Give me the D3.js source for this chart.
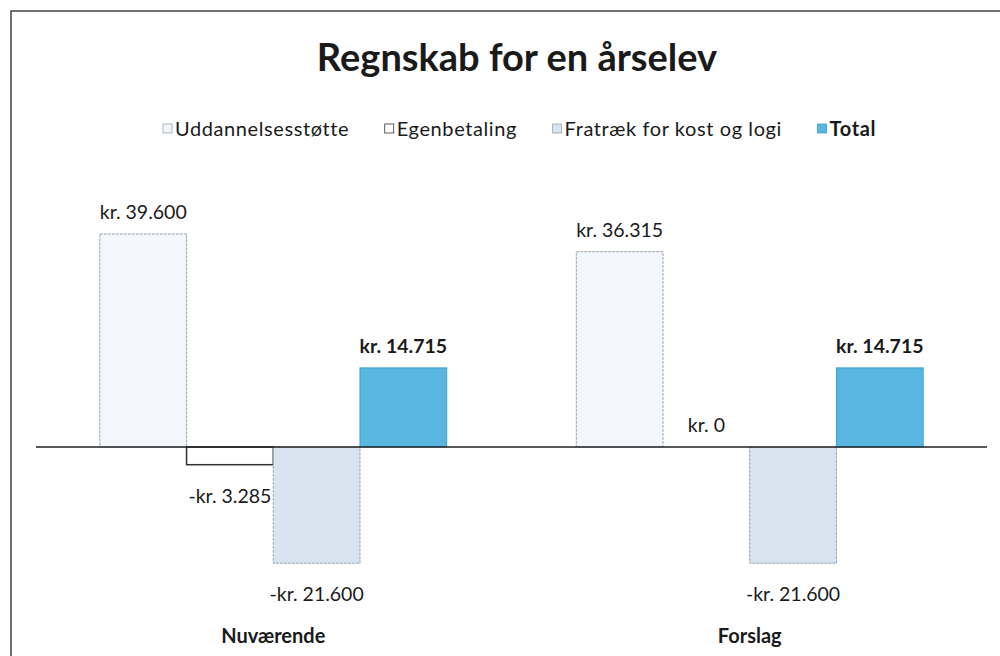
<!DOCTYPE html>
<meta charset="utf-8">
<style>
  body { margin: 0; background: white; }
  text { font-family: Lato, "Open Sans", sans-serif; fill: #1a1a1a; }
  .title { font-size: 38px; font-weight: bold; }
  .legend text { font-size: 20px; letter-spacing: 0.6px; }
  .label { font-size: 19.5px; }
  .cat { font-size: 20px; font-weight: bold; }
</style>
<body>
<script src="https://d3js.org/d3.v7.min.js"></script>
<script>

// chart values
var categories = ["Nuværende", "Forslag"];
var series = ["Uddannelsesstøtte", "Egenbetaling", "Fratræk for kost og logi", "Total"];
var nuvaerende = [39600, -3285, -21600, 14715];
var forslag = [36315, 0, -21600, 14715];
var valueLabels = [
  ["kr. 39.600", "-kr. 3.285", "-kr. 21.600", "kr. 14.715"],
  ["kr. 36.315", "kr. 0", "-kr. 21.600", "kr. 14.715"]
];

var fills = ["#f3f7fb", "#ffffff", "#d9e4f1", "#58b6e1"];
var strokes = ["#9aa3ab", "#333333", "#9aa3ab", "#3c9fd0"];

var width = 1000, height = 656;

var svg = d3.select("body").append("svg")
    .attr("width", width)
    .attr("height", height);

// frame (only top and left visible in the scan)
svg.append("path")
    .attr("d", "M11,656 V11 H1000")
    .attr("fill", "none")
    .attr("stroke", "#444")
    .attr("stroke-width", 1.5);

svg.append("text")
    .attr("class", "title")
    .attr("x", 517)
    .attr("y", 71)
    .attr("text-anchor", "middle")
    .text("Regnskab for en årselev");

// scales
var x0 = d3.scaleBand()
    .domain(categories)
    .range([36, 987])
    .paddingInner(0.272)
    .paddingOuter(0.134);

var x1 = d3.scaleBand()
    .domain(series)
    .range([0, x0.bandwidth()]);

var y = d3.scaleLinear()
    .domain([-25000, 45000])
    .range([581.5, 205]);

var data = [nuvaerende, forslag];

function rows(d, i) {
  return data[i].map(function(v, j) { return {s: series[j], v: v, j: j, label: valueLabels[i][j]}; });
}

var groups = svg.selectAll("g.group")
    .data(categories)
  .enter().append("g")
    .attr("class", "group")
    .attr("transform", function(d) { return "translate(" + x0(d) + ",0)"; });

groups.selectAll("rect")
    .data(rows)
  .enter().append("rect")
    .attr("x", function(d) { return x1(d.s); })
    .attr("width", x1.bandwidth())
    .attr("y", function(d) { return y(Math.max(0, d.v)); })
    .attr("height", function(d) { return Math.abs(y(d.v) - y(0)); })
    .attr("fill", function(d) { return fills[d.j]; })
    .attr("stroke", function(d) { return strokes[d.j]; })
    .attr("stroke-width", function(d) { return d.j == 1 ? 1.5 : 1; })
    .attr("stroke-dasharray", function(d) { return d.j == 0 || d.j == 2 ? "3,1" : null; });

// zero line
svg.append("line")
    .attr("x1", 36).attr("x2", 987)
    .attr("y1", y(0)).attr("y2", y(0))
    .attr("stroke", "#222")
    .attr("stroke-width", 1.5);

groups.selectAll("text.label")
    .data(rows)
  .enter().append("text")
    .attr("class", "label")
    .attr("x", function(d) { return x1(d.s) + x1.bandwidth() / 2; })
    .attr("y", function(d) { return d.v >= 0 ? y(d.v) - 15 : y(d.v) + 38; })
    .attr("text-anchor", "middle")
    .style("font-weight", function(d) { return d.j == 3 ? "bold" : "normal"; })
    .text(function(d) { return d.label; });

// category labels
svg.selectAll("text.cat")
    .data(categories)
  .enter().append("text")
    .attr("class", "cat")
    .attr("x", function(d) { return x0(d) + x0.bandwidth() / 2; })
    .attr("y", 643)
    .attr("text-anchor", "middle")
    .text(function(d) { return d; });

// legend
var legend = svg.append("g").attr("class", "legend");
var items = legend.selectAll("g")
    .data(series)
  .enter().append("g");

items.append("rect")
    .attr("width", 9).attr("height", 9)
    .attr("y", 124)
    .attr("fill", function(d, i) { return fills[i]; })
    .attr("stroke", function(d, i) { return strokes[i]; })
    .attr("stroke-width", 0.8);

items.append("text")
    .attr("x", 12)
    .attr("y", 136)
    .style("font-weight", function(d, i) { return i == 3 ? "bold" : "normal"; })
    .text(function(d) { return d; });

// spread the legend entries over the same span as the reference
var widths = [];
items.each(function() { widths.push(this.getBBox().width); });
var span = [163, 876];
var gap = (span[1] - span[0] - d3.sum(widths)) / (widths.length - 1);
var cursor = span[0];
items.attr("transform", function(d, i) {
  var t = "translate(" + cursor + ",0)";
  cursor += widths[i] + gap;
  return t;
});

</script>
</body>
